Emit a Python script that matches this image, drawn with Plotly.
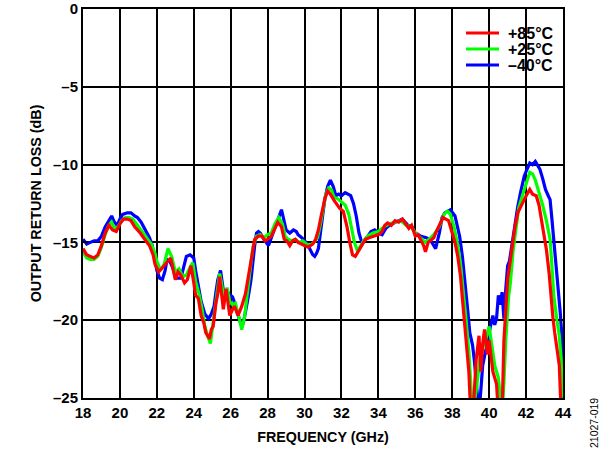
import plotly.graph_objects as go

# +85°C (red)
f_85 = [18.0,18.2,18.4,18.6,18.8,19.0,19.2,19.4,19.6,19.8,20.0,20.2,20.4,20.6,20.8,21.1,21.4,21.6,21.8,21.9,
        22.1,22.3,22.5,22.75,23.0,23.15,23.3,23.5,23.65,23.85,24.0,24.1,24.25,24.4,24.55,24.65,24.75,24.85,24.95,25.05,
        25.2,25.3,25.4,25.5,25.6,25.75,25.85,25.95,26.1,26.2,26.4,26.6,26.8,26.95,27.1,27.3,27.5,27.7,27.85,28.0,
        28.2,28.35,28.55,28.75,28.9,29.05,29.2,29.35,29.5,29.65,29.8,30.0,30.2,30.45,30.6,30.75,30.9,31.1,31.25,31.4,
        31.6,31.75,31.9,32.1,32.3,32.45,32.6,32.75,32.9,33.1,33.3,33.5,33.8,34.0,34.2,34.35,34.5,34.7,34.9,35.1,
        35.3,35.5,35.65,35.8,36.0,36.15,36.3,36.45,36.55,36.7,36.8,37.0,37.1,37.3,37.5,37.65,37.8,38.0,38.15,38.3,
        38.45,38.55,38.65,38.75,38.9,39.0,39.15,39.3,39.45,39.55,39.65,39.75,39.9,40.0,40.1,40.2,40.4,40.5,40.7,40.8,
        41.0,41.1,41.25,41.4,41.55,41.7,41.9,42.05,42.2,42.35,42.55,42.7,42.8,42.95,43.1,43.25,43.35,43.45,43.55,43.7,
        43.8,43.9]
rl_85 = [-15.4,-15.8,-15.9,-16.0,-15.8,-15.2,-14.4,-13.9,-14.2,-14.3,-13.8,-13.5,-13.5,-13.6,-14.0,-14.4,-14.9,-15.2,-15.8,-16.4,
         -16.9,-16.6,-16.3,-16.0,-17.4,-16.9,-17.1,-17.6,-17.4,-16.5,-17.6,-18.4,-18.6,-19.7,-20.2,-20.8,-21.0,-21.2,-20.6,-20.4,
         -18.9,-18.3,-17.2,-18.2,-19.3,-18.0,-18.9,-19.7,-19.3,-19.1,-19.7,-19.1,-18.3,-17.2,-16.0,-14.8,-14.6,-14.6,-14.9,-14.8,
         -14.6,-14.2,-13.7,-14.0,-14.8,-14.9,-15.2,-14.9,-14.8,-15.0,-15.1,-15.2,-15.3,-15.1,-14.8,-14.2,-13.3,-12.2,-11.7,-11.9,
         -12.3,-12.6,-12.8,-13.0,-14.0,-15.0,-15.8,-15.9,-15.6,-15.2,-14.8,-14.7,-14.6,-14.5,-14.3,-13.9,-13.75,-13.9,-13.6,-13.7,
         -13.5,-13.8,-14.1,-13.9,-14.6,-14.5,-14.8,-15.2,-15.6,-15.0,-14.9,-14.7,-14.4,-13.9,-13.4,-13.5,-13.6,-14.4,-15.0,-15.9,
         -17.2,-18.6,-20.0,-21.6,-23.3,-26.0,-25.5,-22.5,-21.0,-23.3,-21.5,-20.6,-22.2,-21.3,-22.5,-23.3,-24.1,-26.0,-26.0,-21.3,
         -17.4,-16.5,-15.2,-14.0,-13.1,-12.7,-12.25,-11.9,-11.6,-11.9,-12.0,-12.6,-13.3,-14.3,-15.45,-17.0,-18.6,-19.8,-20.8,-22.0,
         -22.9,-26.0]

# +25°C (green)
f_25 = [18.0,18.2,18.4,18.6,18.8,19.0,19.2,19.4,19.55,19.7,19.9,20.1,20.3,20.5,20.7,20.9,21.2,21.5,21.7,21.9,
        22.0,22.2,22.4,22.6,22.8,23.0,23.2,23.4,23.6,23.8,23.95,24.1,24.3,24.45,24.6,24.75,24.9,25.0,25.15,25.3,
        25.4,25.5,25.65,25.8,25.95,26.1,26.25,26.45,26.6,26.75,26.9,27.05,27.2,27.4,27.6,27.8,28.0,28.2,28.4,28.6,
        28.8,28.95,29.1,29.3,29.5,29.7,29.9,30.1,30.3,30.5,30.7,30.85,31.0,31.15,31.3,31.45,31.6,31.8,32.0,32.2,
        32.4,32.55,32.7,32.85,33.0,33.2,33.4,33.7,34.0,34.3,34.6,34.9,35.2,35.5,35.8,36.0,36.3,36.55,36.75,37.0,
        37.3,37.55,37.75,37.9,38.1,38.3,38.45,38.6,38.75,38.9,38.95,39.1,39.3,39.5,39.65,39.8,40.0,40.15,40.3,40.5,
        40.7,40.8,40.9,41.05,41.15,41.3,41.45,41.6,41.8,42.0,42.2,42.35,42.5,42.65,42.8,42.9,43.1,43.3,43.4,43.5,
        43.65,43.8,43.9,44.0]
rl_25 = [-15.6,-16.0,-16.1,-16.1,-15.9,-15.3,-14.5,-13.9,-13.7,-14.1,-14.0,-13.6,-13.4,-13.4,-13.5,-13.8,-14.3,-14.8,-15.1,-15.7,
         -16.2,-16.8,-16.4,-15.4,-15.9,-16.9,-16.7,-17.2,-17.1,-16.6,-16.3,-17.5,-18.4,-19.3,-20.4,-21.0,-21.5,-20.6,-19.2,-17.8,
         -17.0,-17.6,-18.7,-17.9,-18.8,-19.0,-18.9,-19.8,-20.6,-19.8,-18.2,-16.8,-15.3,-14.6,-14.5,-14.7,-14.5,-14.4,-13.8,-13.4,
         -13.8,-14.6,-14.8,-14.9,-14.8,-15.0,-14.9,-15.1,-15.2,-15.0,-14.7,-13.9,-12.9,-11.9,-11.5,-11.6,-12.1,-12.2,-12.4,-12.6,
         -13.2,-14.1,-15.0,-15.5,-15.3,-14.9,-14.6,-14.4,-14.3,-14.0,-13.8,-13.7,-13.6,-13.9,-14.0,-14.4,-14.7,-15.0,-14.8,-14.5,
         -14.0,-13.2,-13.0,-13.2,-14.0,-15.2,-16.4,-18.0,-20.0,-22.0,-23.3,-26.0,-24.5,-22.5,-21.8,-21.3,-20.4,-21.8,-22.9,-23.7,
         -26.0,-24.0,-21.3,-18.5,-17.6,-15.5,-14.0,-12.8,-12.0,-11.2,-10.5,-10.6,-11.0,-11.6,-12.2,-12.6,-13.6,-14.8,-16.5,-18.4,
         -19.8,-21.0,-22.5,-26.0]

# -40°C (blue)
f_m40 = [18.0,18.2,18.4,18.6,18.8,19.0,19.2,19.4,19.55,19.7,19.85,20.0,20.15,20.4,20.6,20.8,20.95,21.15,21.3,21.45,
         21.6,21.75,21.85,22.0,22.15,22.3,22.45,22.55,22.7,22.85,23.05,23.3,23.45,23.6,23.8,24.0,24.1,24.2,24.3,24.4,
         24.6,24.8,24.95,25.1,25.2,25.3,25.45,25.55,25.65,25.8,25.9,26.1,26.25,26.35,26.5,26.6,26.7,26.8,26.95,27.1,
         27.2,27.3,27.4,27.5,27.6,27.8,28.05,28.2,28.35,28.5,28.65,28.75,28.85,29.0,29.2,29.4,29.55,29.65,29.85,30.0,
         30.15,30.3,30.45,30.55,30.65,30.75,30.9,31.0,31.1,31.25,31.4,31.55,31.7,31.85,32.0,32.2,32.35,32.5,32.65,32.8,
         32.95,33.1,33.25,33.4,33.6,33.8,34.0,34.2,34.4,34.6,34.9,35.1,35.3,35.6,35.8,36.0,36.3,36.6,36.85,37.1,
         37.3,37.45,37.6,37.9,38.15,38.3,38.4,38.55,38.65,38.75,38.85,38.95,39.1,39.2,39.3,39.45,39.55,39.65,39.8,39.9,
         40.05,40.2,40.3,40.4,40.5,40.6,40.7,40.8,40.9,41.0,41.1,41.25,41.4,41.55,41.7,41.9,42.05,42.2,42.35,42.5,
         42.65,42.75,42.9,43.05,43.2,43.3,43.4,43.5,43.6,43.75,43.85,43.95,44.0]
rl_m40 = [-14.8,-15.1,-15.0,-14.9,-14.9,-14.6,-14.0,-13.6,-13.3,-13.7,-13.9,-13.5,-13.2,-13.1,-13.1,-13.3,-13.4,-13.7,-14.05,-14.3,
          -14.7,-15.2,-15.9,-16.8,-17.3,-17.4,-16.8,-16.1,-16.2,-16.6,-17.3,-17.3,-16.6,-15.9,-15.8,-16.0,-16.8,-17.4,-18.2,-18.8,
          -19.6,-19.9,-19.6,-19.1,-18.2,-17.4,-16.8,-17.6,-18.5,-18.1,-18.3,-18.5,-19.0,-19.5,-20.1,-20.4,-20.1,-19.5,-18.5,-17.4,
          -16.2,-15.2,-14.4,-14.3,-14.4,-14.8,-15.2,-14.7,-14.1,-13.6,-13.2,-12.9,-13.4,-14.2,-14.4,-14.2,-14.3,-14.5,-14.7,-14.9,
          -15.1,-15.45,-15.8,-15.9,-15.7,-15.4,-14.0,-13.0,-12.2,-11.4,-11.0,-11.4,-12.0,-11.9,-12.0,-11.8,-11.9,-12.0,-12.5,-13.3,
          -14.4,-15.0,-14.9,-14.6,-14.3,-14.2,-14.4,-14.5,-14.1,-13.9,-13.7,-13.6,-13.5,-13.9,-14.0,-14.4,-14.6,-14.7,-14.9,-15.4,
          -14.4,-13.4,-13.1,-12.9,-13.3,-14.0,-14.6,-15.9,-17.0,-18.2,-19.5,-20.8,-21.6,-22.6,-23.7,-26.0,-24.5,-22.9,-22.0,-21.6,
          -20.5,-19.7,-20.3,-19.9,-18.4,-19.0,-18.2,-19.9,-18.0,-16.5,-16.2,-15.0,-13.8,-12.7,-11.8,-10.75,-10.3,-9.9,-10.0,-9.8,
          -10.1,-10.3,-10.9,-11.6,-12.0,-12.25,-13.5,-14.8,-16.0,-17.8,-19.5,-21.2,-25.5]

series_names = ["+85°C", "+25°C", "–40°C"]
series_colors = ["#FF0000", "#00FF00", "#0000FF"]

x_ticks = list(range(18, 45, 2))
y_ticks = [0, -5, -10, -15, -20, -25]
y_ticktext = ["0", "–5", "–10", "–15", "–20", "–25"]

FONT = "Liberation Sans, Arial, sans-serif"

# plot-area geometry in pixels (for converting the legend/label placement to paper coords)
W, H = 615, 454
L, R, T, B = 83, 52, 9, 56
PW, PH = W - L - R, H - T - B


def px(xp):
    return (xp - L) / PW


def py(yp):
    return (H - B - yp) / PH


fig = go.Figure()
data = [(f_m40, rl_m40, 2), (f_25, rl_25, 1), (f_85, rl_85, 0)]
for fx, fy, i in data:
    fig.add_trace(go.Scatter(x=fx, y=fy, mode="lines", name=series_names[i], showlegend=False,
                             line=dict(color=series_colors[i], width=3.2)))

axis_common = dict(showline=True, linecolor="black", linewidth=2, mirror="ticks",
                   ticks="inside", ticklen=5, tickwidth=1.5, tickcolor="black",
                   showgrid=True, gridcolor="black", gridwidth=1.5, zeroline=False,
                   automargin=False,
                   tickfont=dict(family=FONT, size=15, color="black", weight="bold"))

fig.update_xaxes(range=[18, 44], tickvals=x_ticks, ticktext=[str(v) for v in x_ticks],
                 title=dict(text="<b>FREQUENCY (GHz)</b>", font=dict(family=FONT, size=14.3, color="black"), standoff=12),
                 **axis_common)
fig.update_yaxes(range=[-25, 0], tickvals=y_ticks, ticktext=y_ticktext,
                 title=dict(text="<b>OUTPUT RETURN LOSS (dB)</b>", font=dict(family=FONT, size=14.3, color="black"), standoff=8),
                 **axis_common)

# legend drawn as a white box with line samples and labels (inside top-right)
shapes = [dict(type="rect", xref="paper", yref="paper", x0=px(455), x1=px(561), y0=py(77), y1=py(11),
               fillcolor="white", line=dict(width=0), layer="between")]
annotations = []
row_y = [33, 49, 65]
for i, name in enumerate(series_names):
    shapes.append(dict(type="line", xref="paper", yref="paper", x0=px(466), x1=px(499),
                       y0=py(row_y[i]), y1=py(row_y[i]),
                       line=dict(color=series_colors[i], width=3.2), layer="above"))
    annotations.append(dict(text="<b>" + name + "</b>", xref="paper", yref="paper",
                            x=px(507), y=py(row_y[i]), xanchor="left", yanchor="middle",
                            height=15, borderpad=0,
                            showarrow=False, font=dict(family=FONT, size=16, color="black")))

annotations.append(dict(text="21027-019", xref="paper", yref="paper",
                        x=px(594), y=py(423), xanchor="center", yanchor="middle",
                        showarrow=False, textangle=-90,
                        font=dict(family=FONT, size=10.5, color="black")))

fig.update_layout(
    width=W, height=H,
    margin=dict(l=L, r=R, t=T, b=B, autoexpand=False),
    plot_bgcolor="white", paper_bgcolor="white",
    showlegend=False,
    shapes=shapes,
    annotations=annotations,
)

fig.write_html("out.html", config={"displayModeBar": False})

# remove the default page margin so the figure sits at the window origin
with open("out.html", "r", encoding="utf-8") as fh:
    html = fh.read()
html = html.replace("<head>", "<head><style>html,body{margin:0;padding:0;overflow:hidden;}</style>", 1)
with open("out.html", "w", encoding="utf-8") as fh:
    fh.write(html)
